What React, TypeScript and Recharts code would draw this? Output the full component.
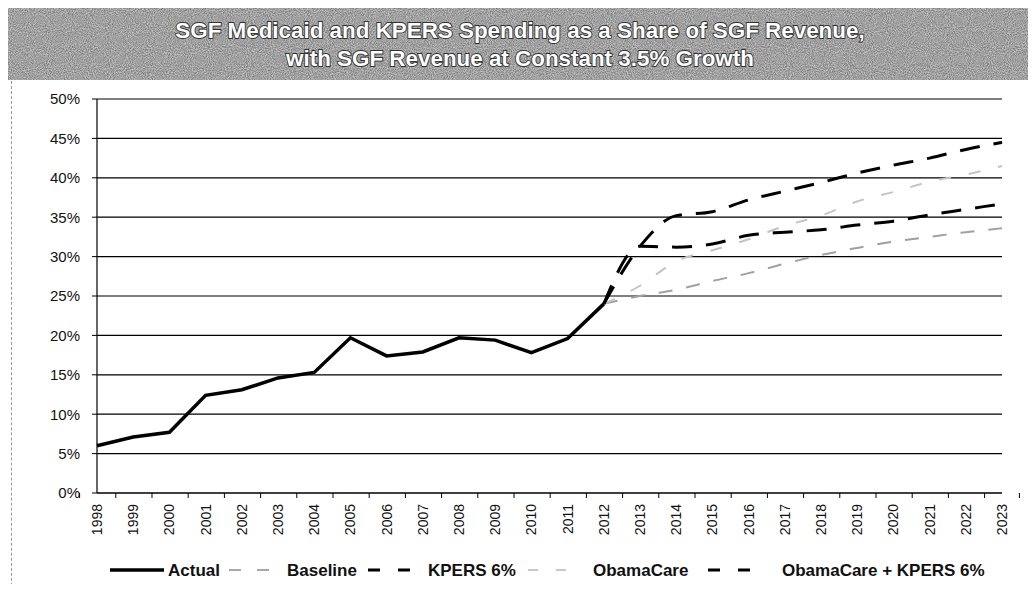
import React from "react";
import { CartesianGrid, Line, LineChart, XAxis, YAxis } from "recharts";

const years = [
  "1998", "1999", "2000", "2001", "2002", "2003", "2004", "2005", "2006",
  "2007", "2008", "2009", "2010", "2011", "2012", "2013", "2014", "2015",
  "2016", "2017", "2018", "2019", "2020", "2021", "2022", "2023",
];

const actual = [
  6.0, 7.1, 7.7, 12.4, 13.1, 14.6, 15.3, 19.7, 17.4, 17.9, 19.7, 19.4, 17.8,
  19.6, 24.0, null, null, null, null, null, null, null, null, null, null, null,
];

const baseline = [
  null, null, null, null, null, null, null, null, null, null, null, null, null,
  null, 24.0, 25.0, 25.8, 26.9, 27.9, 29.1, 30.2, 31.1, 31.9, 32.5, 33.1, 33.6,
];

const kpers = [
  null, null, null, null, null, null, null, null, null, null, null, null, null,
  null, 24.0, 31.3, 31.2, 31.6, 32.7, 33.1, 33.4, 34.0, 34.5, 35.3, 36.0, 36.7,
];

const obamaCare = [
  null, null, null, null, null, null, null, null, null, null, null, null, null,
  null, 24.0, 26.3, 29.4, 30.8, 32.2, 33.9, 35.2, 37.0, 38.2, 39.5, 40.4, 41.5,
];

const obamaKpers = [
  null, null, null, null, null, null, null, null, null, null, null, null, null,
  null, 24.0, 31.3, 35.2, 35.7, 37.2, 38.3, 39.4, 40.6, 41.6, 42.5, 43.6, 44.5,
];

const yTicks = [0, 5, 10, 15, 20, 25, 30, 35, 40, 45, 50];

const data = years.map((year, i) => ({
  year,
  actual: actual[i],
  baseline: baseline[i],
  kpers: kpers[i],
  obamaCare: obamaCare[i],
  obamaKpers: obamaKpers[i],
}));

const FONT = "'Liberation Sans', Arial, sans-serif";
const NARROW = "'Liberation Sans Narrow', 'Liberation Sans', Arial, sans-serif";
const PLOT_LEFT = 97;
const PLOT_RIGHT = 1002;
const PLOT_TOP = 99;
const PLOT_BOTTOM = 493;
const X_AXIS_H = 50;
const HALF_STEP = (PLOT_RIGHT - PLOT_LEFT) / years.length / 2;

const YearTick = (props: any) => {
  const { x, payload, index } = props;
  const last = index === years.length - 1;
  return (
    <g>
      <line x1={x - HALF_STEP} x2={x - HALF_STEP} y1={PLOT_BOTTOM} y2={PLOT_BOTTOM + 5} stroke="#000" />
      {last && (
        <line x1={x + HALF_STEP} x2={x + HALF_STEP} y1={PLOT_BOTTOM} y2={PLOT_BOTTOM + 5} stroke="#000" />
      )}
      <text
        transform={`translate(${x},${PLOT_BOTTOM + 11}) rotate(-90)`}
        textAnchor="end"
        dy={5}
        fontSize={14}
        fontFamily={FONT}
        fill="#111"
      >
        {payload.value}
      </text>
    </g>
  );
};

const legendItems = [
  { label: "Actual", color: "#000", dash: "", width: 3.5, x: 110, len: 54, text: 168 },
  { label: "Baseline", color: "#a8a8a8", dash: "12 16", width: 2, x: 229, len: 42, text: 287 },
  { label: "KPERS 6%", color: "#000", dash: "12 18", width: 3, x: 368, len: 42, text: 428 },
  { label: "ObamaCare", color: "#c8c8c8", dash: "10 18", width: 2, x: 528, len: 38, text: 593 },
  { label: "ObamaCare + KPERS 6%", color: "#000", dash: "12 18", width: 3, x: 708, len: 42, text: 782 },
];

const Legend = () => (
  <svg width={1036} height={30} style={{ position: "absolute", left: 0, top: 556 }}>
    {legendItems.map((it) => (
      <line
        key={it.label}
        x1={it.x}
        x2={it.x + it.len}
        y1={14}
        y2={14}
        stroke={it.color}
        strokeWidth={it.width}
        strokeDasharray={it.dash || undefined}
      />
    ))}
    {legendItems.map((it) => (
      <text
        key={it.label + "t"}
        x={it.text}
        y={20}
        fontSize={17}
        fontWeight="bold"
        fontFamily={NARROW}
        fill="#111"
      >
        {it.label}
      </text>
    ))}
  </svg>
);

const TitleBand = () => (
  <svg width={1036} height={80} style={{ position: "absolute", left: 0, top: 0 }}>
    <defs>
      <filter id="grain" x="0" y="0" width="100%" height="100%">
        <feTurbulence type="fractalNoise" baseFrequency="0.95" numOctaves="2" seed="3" />
        <feColorMatrix
          type="matrix"
          values="0 0 0 0 0  0 0 0 0 0  0 0 0 0 0  0 0 0 -1.6 1.25"
        />
      </filter>
    </defs>
    <rect x={2} y={6} width={1034} height={74} fill="#c4c4c4" />
    <rect x={2} y={6} width={1034} height={74} filter="url(#grain)" opacity={0.4} />
    {[
      { t: "SGF Medicaid and KPERS Spending as a Share of SGF Revenue,", y: 38 },
      { t: "with SGF Revenue at Constant 3.5% Growth", y: 66 },
    ].map((l) => (
      <text
        key={l.t}
        x={520}
        y={l.y}
        textAnchor="middle"
        fontSize={22.4}
        fontWeight="bold"
        fontFamily={FONT}
        fill="#fff"
        stroke="#333"
        strokeWidth={1.8}
        paintOrder="stroke"
      >
        {l.t}
      </text>
    ))}
  </svg>
);

export default function App() {
  return (
    <div style={{ margin: -8, width: 1036, height: 592, position: "relative", background: "#fff", overflow: "hidden" }}>
      <TitleBand />
      <div
        style={{
          position: "absolute",
          left: 11,
          top: 81,
          width: 1016,
          height: 520,
          borderLeft: "1px dashed #999",
          borderRight: "1px dashed #bbb",
        }}
      />
      <LineChart
        width={1036}
        height={592}
        data={data}
        margin={{
          top: PLOT_TOP,
          right: 1036 - PLOT_RIGHT,
          bottom: 592 - PLOT_BOTTOM - X_AXIS_H,
          left: PLOT_LEFT - 60,
        }}
        style={{ position: "absolute", left: 0, top: 0 }}
      >
        <CartesianGrid vertical={false} stroke="#000" strokeWidth={1.2} />
        <XAxis
          dataKey="year"
          tick={<YearTick />}
          tickLine={false}
          axisLine={{ stroke: "#000", strokeWidth: 1.2 }}
          interval={0}
          height={X_AXIS_H}
        />
        <YAxis
          domain={[0, 50]}
          ticks={yTicks}
          tickFormatter={(v) => `${v}%`}
          width={60}
          tickSize={5}
          tickMargin={12}
          tickLine={{ stroke: "#000" }}
          axisLine={{ stroke: "#000", strokeWidth: 1.2 }}
          tick={{ fill: "#111", fontSize: 15, fontFamily: FONT }}
        />
        <Line
          dataKey="baseline"
          type="monotone"
          stroke="#a0a0a0"
          strokeWidth={2}
          strokeDasharray="14 14"
          dot={false}
          isAnimationActive={false}
        />
        <Line
          dataKey="obamaCare"
          type="monotone"
          stroke="#c4c4c4"
          strokeWidth={2}
          strokeDasharray="12 18"
          dot={false}
          isAnimationActive={false}
        />
        <Line
          dataKey="kpers"
          type="monotone"
          stroke="#000"
          strokeWidth={3}
          strokeDasharray="20 14"
          dot={false}
          isAnimationActive={false}
        />
        <Line
          dataKey="obamaKpers"
          type="monotone"
          stroke="#000"
          strokeWidth={3}
          strokeDasharray="20 14"
          dot={false}
          isAnimationActive={false}
        />
        <Line
          dataKey="actual"
          type="linear"
          stroke="#000"
          strokeWidth={3.5}
          dot={false}
          isAnimationActive={false}
        />
      </LineChart>
      <Legend />
    </div>
  );
}
